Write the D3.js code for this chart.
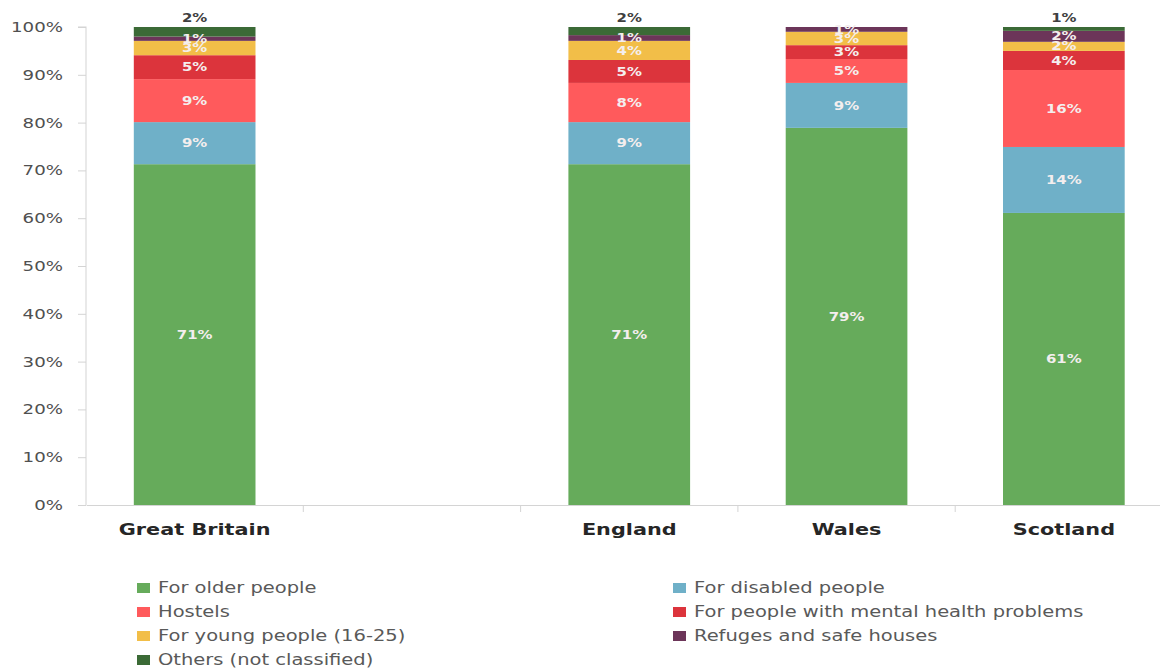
<!DOCTYPE html>
<html>
<head>
<meta charset="utf-8">
<script src="https://cdn.jsdelivr.net/npm/d3@7"></script>
<style>
  html, body { margin: 0; padding: 0; background: #fff; }
  svg { display: block; }
  text { font-family: "DejaVu Sans", Verdana, sans-serif; }
</style>
</head>
<body>
<div class="chart"></div>
<script>
// axis slots: the second slot is an empty gap
const slots = ['Great Britain', '', 'England', 'Wales', 'Scotland']
const regions = ['Great Britain', 'England', 'Wales', 'Scotland']

const seriesNames = [
  'For older people',
  'For disabled people',
  'Hostels',
  'For people with mental health problems',
  'For young people (16-25)',
  'Refuges and safe houses',
  'Others (not classified)',
]
const seriesColors = ['#66ab5b', '#6fb0c8', '#ff5a5c', '#dc343c', '#f2be48', '#6c3559', '#3b6a36']

// shares in %, per region (GB, England, Wales, Scotland)
const older = [71.3, 71.3, 78.9, 61.1]
const disabled = [8.8, 8.8, 9.4, 13.8]
const hostels = [9.0, 8.2, 5.0, 16.1]
const mental = [5.0, 4.8, 2.9, 4.0]
const young = [3.0, 4.0, 2.8, 1.9]
const refuges = [0.9, 1.2, 1.0, 2.3]
const others = [2.0, 1.7, 0.0, 0.8]

const yTicks = [0, 10, 20, 30, 40, 50, 60, 70, 80, 90, 100]

const W = 1160
const H = 668
const SX = 1.3 // the original is stretched sideways
const VW = W / SX

const columns = [older, disabled, hostels, mental, young, refuges, others]
const table = regions.map((r, i) => {
  const row = { region: r }
  seriesNames.forEach((s, j) => {
    row[s] = columns[j][i]
  })
  return row
})

const svg = d3
  .select('.chart')
  .append('svg')
  .attr('width', W)
  .attr('height', H)
  .attr('viewBox', `0 0 ${VW} ${H}`)
  .attr('preserveAspectRatio', 'none')

const x = d3
  .scaleBand()
  .domain(slots)
  .range([86 / SX, 1172.5 / SX])
  .padding(0)

const barW = x.bandwidth() * 0.56

const y = d3
  .scaleLinear()
  .domain([0, 100])
  .range([505, 27])

const color = d3.scaleOrdinal().domain(seriesNames).range(seriesColors)

const stack = d3.stack().keys(seriesNames)
const layers = stack(table)

// y axis
const yAxis = svg
  .append('g')
  .attr('transform', `translate(${x.range()[0]},0)`)
  .call(
    d3
      .axisLeft(y)
      .tickValues(yTicks)
      .tickFormat(d => d + '%')
      .tickSize(8 / SX)
      .tickPadding(15 / SX)
  )
yAxis.selectAll('path, line').attr('stroke', '#d4d4d4').attr('vector-effect', 'non-scaling-stroke')
yAxis.select('.domain').attr('d', `M${-8 / SX},${y(100)}H0V${y(0)}`)
yAxis
  .selectAll('text')
  .attr('fill', '#505050')
  .attr('font-size', 14)

// x axis
const xAxis = svg
  .append('g')
  .attr('transform', `translate(0,${y(0)})`)
  .call(d3.axisBottom(x).tickSize(0).tickPadding(19))
xAxis.select('.domain').attr('stroke', '#d4d4d4').attr('vector-effect', 'non-scaling-stroke')
xAxis
  .selectAll('text')
  .attr('fill', '#262626')
  .attr('font-size', 16)
  .attr('font-weight', 'bold')

// separators between slots
svg
  .append('g')
  .selectAll('line')
  .data(slots.slice(1))
  .join('line')
  .attr('x1', d => x(d))
  .attr('x2', d => x(d))
  .attr('y1', y(0))
  .attr('y2', y(0) + 7)
  .attr('stroke', '#d4d4d4')
  .attr('vector-effect', 'non-scaling-stroke')

// bars
const groups = svg
  .append('g')
  .selectAll('g')
  .data(layers)
  .join('g')
  .attr('fill', d => color(d.key))

groups
  .selectAll('rect')
  .data(d => d)
  .join('rect')
  .attr('x', d => x(d.data.region) + (x.bandwidth() - barW) / 2)
  .attr('width', barW)
  .attr('y', d => y(d[1]))
  .attr('height', d => y(d[0]) - y(d[1]))

// value labels
const fmt = d => d3.format('.0f')(d) + '%'
const lastKey = seriesNames[seriesNames.length - 1]

layers.forEach(layer => {
  const isTop = layer.key === lastKey
  svg
    .append('g')
    .selectAll('text')
    .data(layer.filter(d => d[1] - d[0] > 0.05))
    .join('text')
    .attr('x', d => x(d.data.region) + x.bandwidth() / 2)
    .attr('y', d => (isTop ? y(d[1]) - 5 : (y(d[0]) + y(d[1])) / 2))
    .attr('dy', isTop ? 0 : '0.36em')
    .attr('text-anchor', 'middle')
    .attr('font-size', 11.5)
    .attr('font-weight', 'bold')
    .attr('fill', isTop ? '#404040' : '#f4eeee')
    .text(d => fmt(d[1] - d[0]))
})

// legend
const legend = svg
  .append('g')
  .selectAll('g')
  .data(seriesNames)
  .join('g')
  .attr('transform', (d, i) => {
    const col = i % 2
    const row = Math.floor(i / 2)
    return `translate(${(col ? 673 : 137) / SX},${588 + row * 24})`
  })

legend
  .append('rect')
  .attr('x', 0)
  .attr('y', -5)
  .attr('width', 13 / SX)
  .attr('height', 10)
  .attr('fill', d => color(d))

legend
  .append('text')
  .attr('x', 21 / SX)
  .attr('dy', '0.35em')
  .attr('font-size', 15)
  .attr('fill', '#595959')
  .text(d => d)
</script>
</body>
</html>
